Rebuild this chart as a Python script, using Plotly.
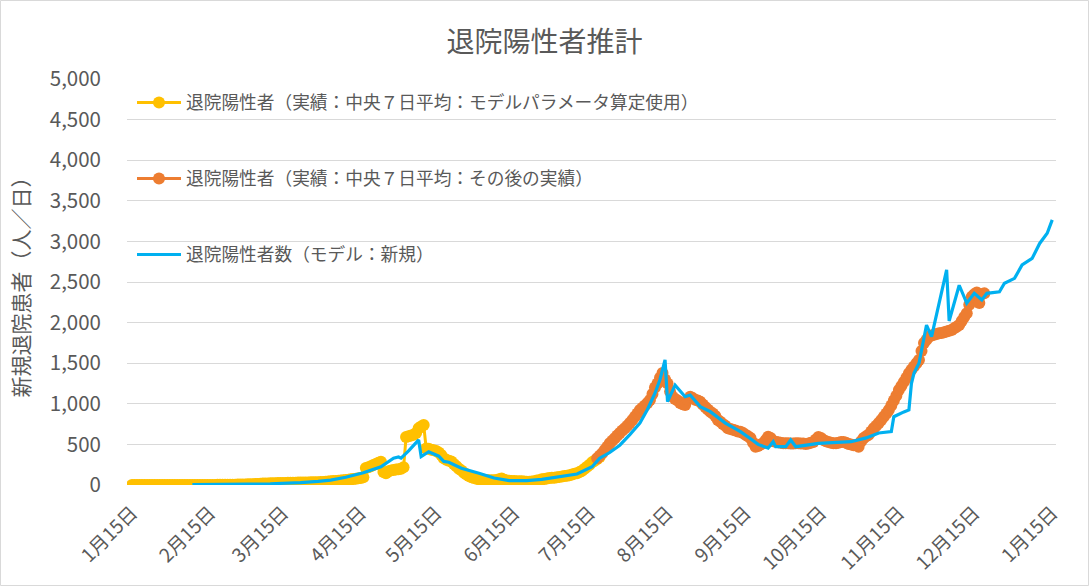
import pandas as pd
import plotly.graph_objects as go

# ---------------- data ----------------
title_text = "退院陽性者推計"
y_title = "新規退院患者（人／日）"
name_yellow = "退院陽性者（実績：中央７日平均：モデルパラメータ算定使用）"
name_orange = "退院陽性者（実績：中央７日平均：その後の実績）"
name_blue = "退院陽性者数（モデル：新規）"

tick_dates = ["2020-01-15", "2020-02-15", "2020-03-15", "2020-04-15", "2020-05-15",
              "2020-06-15", "2020-07-15", "2020-08-15", "2020-09-15", "2020-10-15",
              "2020-11-15", "2020-12-15", "2021-01-15"]
tick_labels = ["1月15日", "2月15日", "3月15日", "4月15日", "5月15日", "6月15日",
               "7月15日", "8月15日", "9月15日", "10月15日", "11月15日", "12月15日", "1月15日"]

# daily values, yellow series starts 2020-01-15
yellow_start = "2020-01-15"
yellow_vals = [
    # Jan 15-31
    0, 0, 0, 0, 0, 0, 0, 0, 0, 0, 0, 0, 0, 0, 0, 0, 0,
    # Feb 1-29
    0, 0, 0, 0, 0, 0, 0, 0, 0, 0, 0, 0, 0, 0,
    1, 1, 1, 2, 2, 2, 3, 3, 3, 4, 4, 5, 5, 6, 6,
    # Mar 1-31
    8, 9, 10, 12, 13, 15, 17, 18, 20, 21, 22, 23, 24, 25, 25, 26,
    27, 28, 28, 29, 30, 30, 31, 32, 32, 33, 33, 34, 35, 36, 38,
    # Apr 1-30
    40, 42, 45, 48, 50, 53, 56, 60, 63, 66, 70, 74, 78, 82, 86,
    95, 210, 220, 230, 245, 260, 275, 287, 160, 145, 170, 180, 185, 190, 195,
    # May 1-31
    200, 220, 590, 600, 610, 620, 640, 700, 720, 740, 450, 445, 435, 428, 420, 400,
    370, 330, 310, 300, 290, 260, 230, 200, 180, 150, 130, 110, 95, 85, 78,
    # Jun 1-30
    72, 68, 65, 62, 60, 60, 58, 62, 70, 80, 65, 55, 52, 50, 48,
    47, 45, 45, 42, 40, 40, 42, 45, 55, 60, 70, 75, 80, 85, 88,
    # Jul 1-19
    90, 95, 100, 105, 110, 115, 120, 130, 140, 145, 160, 175, 200, 225, 250,
    280, 300, 320, 345,
]

# daily values, orange series starts 2020-07-18
orange_start = "2020-07-18"
orange_vals = [
    # Jul 18-31
    330, 360, 390, 430, 470, 513, 545, 575, 610, 640, 670, 700, 730, 763,
    # Aug 1-31
    800, 840, 880, 924, 950, 980, 1010, 1047, 1120, 1200, 1250, 1320, 1380, 1300, 1250, 1150,
    1087, 1060, 1040, 1010, 995, 985, 1050, 1087, 1070, 1050, 1040, 1026, 990, 960, 930,
    # Sep 1-30
    903, 880, 850, 800, 780, 750, 730, 700, 690, 680, 670, 660, 657, 640, 620,
    600, 580, 520, 472, 480, 500, 513, 550, 595, 580, 540, 533, 525, 520, 515,
    # Oct 1-31
    515, 515, 510, 510, 515, 515, 510, 510, 505, 510, 520, 530, 560, 590, 580, 555,
    540, 530, 520, 513, 513, 520, 530, 530, 520, 505, 500, 490, 490, 472, 540,
    # Nov 1-30
    580, 600, 620, 660, 700, 730, 763, 800, 840, 880, 924, 980, 1040, 1100, 1170,
    1220, 1270, 1320, 1375, 1420, 1460, 1500, 1540, 1650, 1750, 1790, 1827, 1840, 1850, 1860,
    # Dec 1-19
    1868, 1872, 1880, 1890, 1900, 1910, 1930, 1950, 1970, 2020, 2070, 2115, 2220, 2320,
    2350, 2370, 2240, 2350, 2360,
]

blue_dates = ["2020-02-08", "2020-02-20", "2020-03-01", "2020-03-10", "2020-03-15", "2020-03-22",
              "2020-03-29", "2020-04-03", "2020-04-09", "2020-04-16", "2020-04-23", "2020-04-28",
              "2020-04-30", "2020-05-01", "2020-05-04", "2020-05-08", "2020-05-09", "2020-05-12",
              "2020-05-16", "2020-05-18", "2020-05-20", "2020-05-25", "2020-06-01", "2020-06-07",
              "2020-06-13", "2020-06-20", "2020-06-26", "2020-07-03", "2020-07-10", "2020-07-16",
              "2020-07-19", "2020-07-23", "2020-07-27", "2020-07-31", "2020-08-04", "2020-08-07",
              "2020-08-10", "2020-08-12", "2020-08-14", "2020-08-15", "2020-08-18", "2020-08-22",
              "2020-08-24", "2020-08-28", "2020-09-01", "2020-09-07", "2020-09-13", "2020-09-17",
              "2020-09-20", "2020-09-24", "2020-09-26", "2020-09-27", "2020-10-01", "2020-10-03",
              "2020-10-05", "2020-10-14", "2020-10-27", "2020-11-02", "2020-11-07", "2020-11-12",
              "2020-11-13", "2020-11-17", "2020-11-19", "2020-11-20", "2020-11-21", "2020-11-23",
              "2020-11-26", "2020-11-28", "2020-12-04", "2020-12-05", "2020-12-09", "2020-12-12",
              "2020-12-15", "2020-12-18", "2020-12-20", "2020-12-25", "2020-12-27", "2020-12-31",
              "2021-01-03", "2021-01-07", "2021-01-10", "2021-01-13", "2021-01-15"]
blue_vals = [5, 5, 10, 15, 20, 30,
             45, 60, 95, 150, 225, 330,
             345, 330, 420, 555, 350, 410,
             355, 290, 280, 207, 145, 86,
             53, 53, 70, 98, 135, 225,
             330, 400, 490, 620, 763, 930,
             1130, 1300, 1540, 1026, 1230, 1087,
             1108, 965, 903, 763, 657, 570,
             500, 455, 533, 472, 472, 555,
             472, 513, 533, 580, 640, 657,
             841, 900, 924, 1250, 1375, 1500,
             1970, 1827, 2650, 2020, 2460, 2240,
             2360, 2280, 2360, 2380, 2485, 2545,
             2710, 2790, 2975, 3100, 3265]

yellow_dates = pd.date_range(yellow_start, periods=len(yellow_vals), freq="D")
orange_dates = pd.date_range(orange_start, periods=len(orange_vals), freq="D")

# ---------------- figure ----------------
FONT = "Noto Sans CJK JP"
TXT = "#595959"
W, H = 1089, 586
L, R, T, B = 127, 1056, 79, 485  # plot area pixel box


def px_to_paper_x(px):
    return (px - L) / (R - L)


def px_to_paper_y(py):
    return (B - py) / (B - T)


fig = go.Figure()
fig.add_trace(go.Scatter(x=yellow_dates, y=yellow_vals, name=name_yellow, mode="lines+markers",
                         line=dict(color="#FFC000", width=3),
                         marker=dict(color="#FFC000", size=12), legend="legend"))
fig.add_trace(go.Scatter(x=orange_dates, y=orange_vals, name=name_orange, mode="lines+markers",
                         line=dict(color="#ED7D31", width=3),
                         marker=dict(color="#ED7D31", size=12), legend="legend2"))
fig.add_trace(go.Scatter(x=blue_dates, y=blue_vals, name=name_blue, mode="lines",
                         line=dict(color="#00B0F0", width=3.2), legend="legend3"))

leg_common = dict(font=dict(family=FONT, size=17.7, color=TXT), bgcolor="rgba(0,0,0,0)",
                  xanchor="left", yanchor="middle", itemwidth=44)
lx = px_to_paper_x(132)

fig.update_layout(
    width=W, height=H,
    margin=dict(l=L, r=W - R, t=T, b=H - B),
    paper_bgcolor="white", plot_bgcolor="white",
    title=dict(text=title_text, x=0.5, xref="container", xanchor="center",
               y=1 - 42 / H, yref="container", yanchor="middle",
               font=dict(family=FONT, size=28, color=TXT)),
    font=dict(family=FONT, color=TXT),
    xaxis=dict(type="date", range=["2020-01-13", "2021-01-16 12:00"],
               tickmode="array", tickvals=tick_dates, ticktext=tick_labels, tickangle=-45,
               tickfont=dict(family=FONT, size=19, color=TXT), showgrid=False, zeroline=False,
               showline=False, ticks="", ticklabelstandoff=12),
    yaxis=dict(range=[0, 5000], dtick=500, tickformat=",", showgrid=True, gridcolor="#D9D9D9",
               gridwidth=1, zeroline=False, showline=False, ticks="", ticklabelstandoff=25,
               tickfont=dict(family=FONT, size=20.5, color=TXT),
               title=dict(text=y_title, font=dict(family=FONT, size=21, color=TXT), standoff=14)),
    legend=dict(x=lx, y=px_to_paper_y(103), **leg_common),
    legend2=dict(x=lx, y=px_to_paper_y(179), **leg_common),
    legend3=dict(x=lx, y=px_to_paper_y(255), **leg_common),
    showlegend=True,
    shapes=[dict(type="rect", xref="paper", yref="paper",
                 x0=px_to_paper_x(0.5), x1=px_to_paper_x(W - 0.5),
                 y0=px_to_paper_y(H - 0.5), y1=px_to_paper_y(0.5),
                 line=dict(color="#D9D9D9", width=1), fillcolor="rgba(0,0,0,0)", layer="below")],
)

fig.write_html("out.html")
